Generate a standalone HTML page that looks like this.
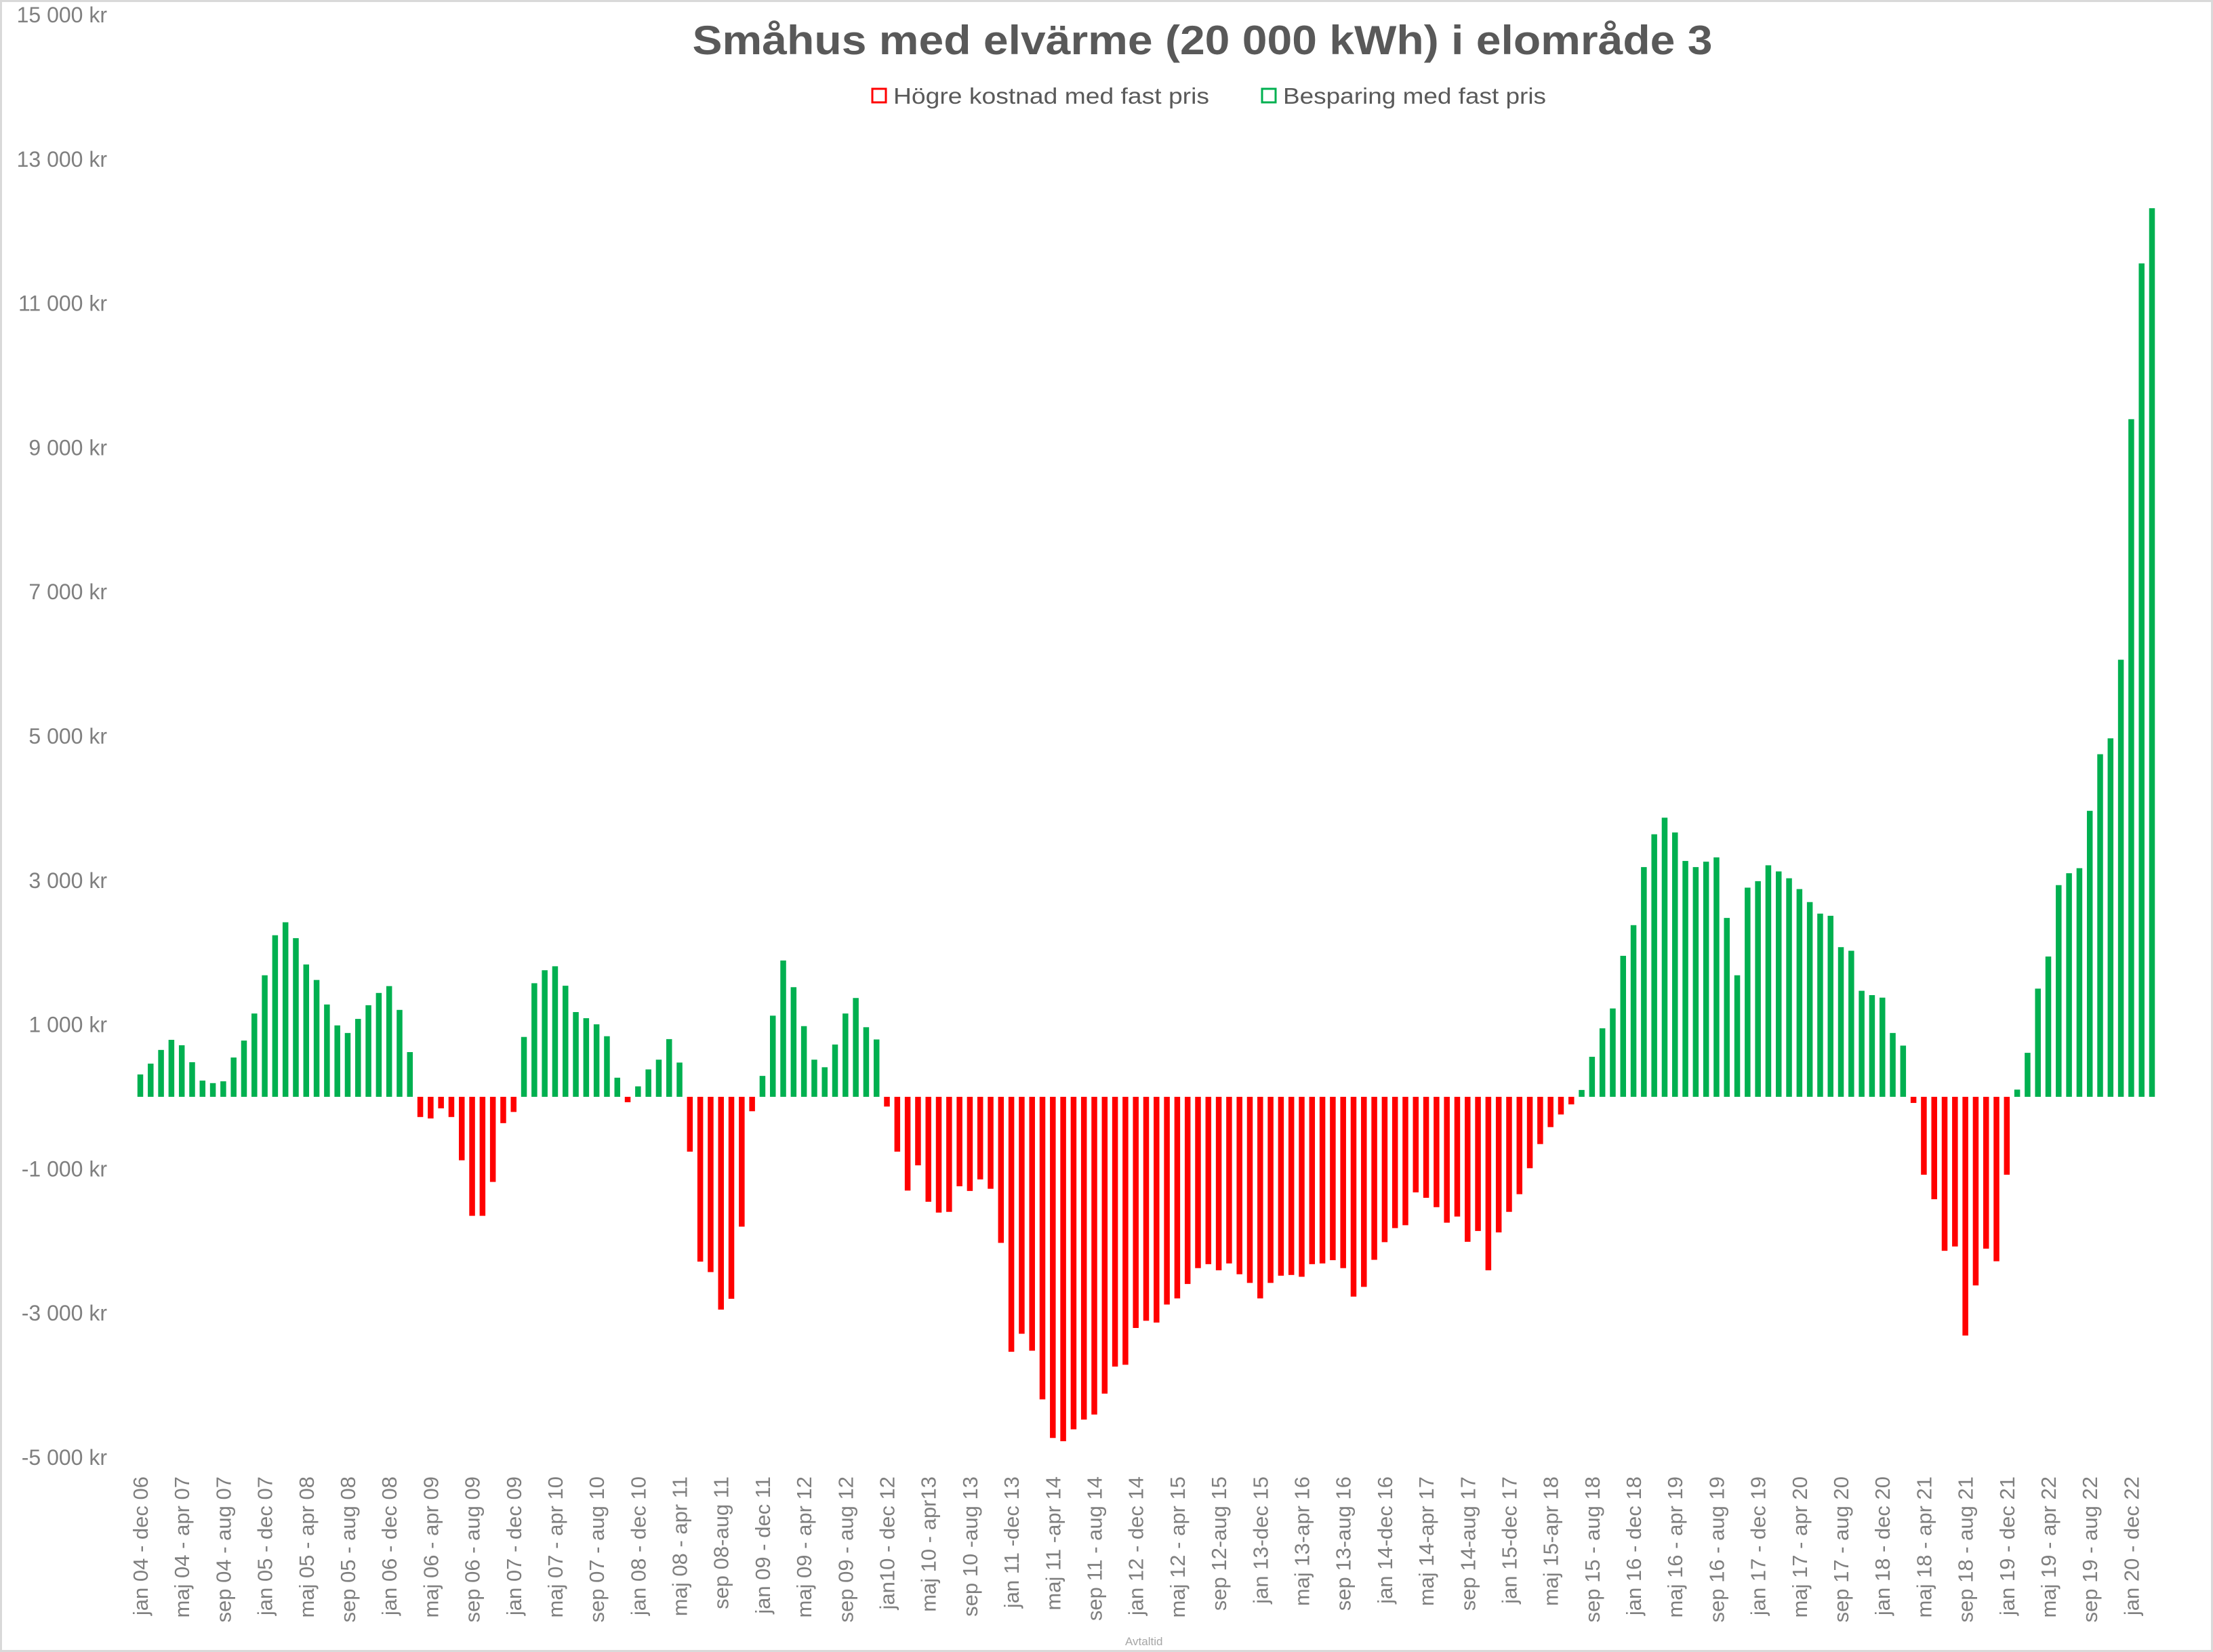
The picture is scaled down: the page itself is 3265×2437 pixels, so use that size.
<!DOCTYPE html>
<html><head><meta charset="utf-8"><style>
html,body{margin:0;padding:0;background:#fff;}
svg{display:block;}
text{font-family:"Liberation Sans",sans-serif;}
</style></head><body>
<svg id="chart" width="3265" height="2437" viewBox="0 0 3265 2437" xmlns="http://www.w3.org/2000/svg">
<rect x="1.5" y="1.5" width="3262" height="2434" fill="#fff" stroke="#d9d9d9" stroke-width="3"/>
<text x="1774" y="80" text-anchor="middle" font-size="60" font-weight="bold" fill="#595959" textLength="1505" lengthAdjust="spacingAndGlyphs">Småhus med elvärme (20 000 kWh) i elområde 3</text>
<g>
<rect x="1287" y="131" width="20" height="20" fill="none" stroke="#ff0000" stroke-width="3"/>
<text x="1318" y="153" font-size="33" fill="#595959" textLength="466" lengthAdjust="spacingAndGlyphs">Högre kostnad med fast pris</text>
<rect x="1862" y="131" width="20" height="20" fill="none" stroke="#00b050" stroke-width="3"/>
<text x="1893" y="153" font-size="33" fill="#595959" textLength="388" lengthAdjust="spacingAndGlyphs">Besparing med fast pris</text>
</g>
<g id="yaxis"></g>
<g id="bars"></g>
<g id="xaxis"></g>
<text x="1660" y="2427" font-size="17" fill="#a6a6a6">Avtaltid</text>
</svg>
<script>
const values = [310,460,650,790,715,480,225,190,215,545,780,1155,1685,2240,2420,2200,1835,1620,1280,990,885,1080,1270,1440,1535,1205,620,
-280,-300,-160,-280,-880,-1650,-1650,-1180,
-365,-210,830,1575,1755,1810,1540,1175,1090,1005,840,265,-75,145,380,515,800,475,-760,-2285,-2430,-2950,-2800,-1800,-200,290,1125,1890,1520,980,515,410,725,1155,1370,965,795,-135,-760,
-1300,-950,-1455,-1605,-1595,-1240,-1305,-1145,-1275,-2025,-3535,-3285,-3520,-4195,-4730,-4775,-4610,-4475,-4405,-4115,-3740,-3715,-3205,-3105,-3130,-2880,-2795,-2595,-2375,-2320,-2405,-2310,-2460,-2580,-2795,-2580,-2480,-2470,-2495,-2320,-2310,-2265,-2375,-2770,
-2635,-2260,-2015,-1820,-1780,-1325,-1400,-1530,-1745,-1660,-2010,-1860,-2405,-1880,-1595,-1350,-990,-655,-420,-245,-105,
95,555,950,1225,1955,2380,3185,3640,3870,3665,3270,3185,3260,3320,2480,1685,2900,
2990,3210,3125,3030,2880,2700,2540,2510,2075,2025,1470,1410,1375,885,710,
-85,-1080,-1420,-2135,-2075,-3310,-2615,-2105,-2280,-1080,
100,610,1500,1945,2935,3100,3170,3965,4750,4970,6060,9395,11555,12320];
const xLabels = ["jan 04 - dec 06","maj 04 - apr 07","sep 04 - aug 07","jan 05 - dec 07","maj 05 - apr 08","sep 05 - aug 08","jan 06 - dec 08","maj 06 - apr 09","sep 06 - aug 09","jan 07 - dec 09","maj 07 - apr 10","sep 07 - aug 10","jan 08 - dec 10","maj 08 - apr 11","sep 08-aug 11","jan 09 - dec 11","maj 09 - apr 12","sep 09 - aug 12","jan10 - dec 12","maj 10 - apr13","sep 10 -aug 13","jan 11 -dec 13","maj 11 -apr 14","sep 11 - aug 14","jan 12 - dec 14","maj 12 - apr 15","sep 12-aug 15","jan 13-dec 15","maj 13-apr 16","sep 13-aug 16","jan 14-dec 16","maj 14-apr 17","sep 14-aug 17","jan 15-dec 17","maj 15-apr 18","sep 15 - aug 18","jan 16 - dec 18","maj 16 - apr 19","sep 16 - aug 19","jan 17 - dec 19","maj 17 - apr 20","sep 17 - aug 20","jan 18 - dec 20","maj 18 - apr 21","sep 18 - aug 21","jan 19 - dec 21","maj 19 - apr 22","sep 19 - aug 22","jan 20 - dec 22"];
const yTicks = [15000,13000,11000,9000,7000,5000,3000,1000,-1000,-3000,-5000];
const yTickLabels = ["15 000 kr","13 000 kr","11 000 kr","9 000 kr","7 000 kr","5 000 kr","3 000 kr","1 000 kr","-1 000 kr","-3 000 kr","-5 000 kr"];

const NS = "http://www.w3.org/2000/svg";
const Y0 = 1618, PER = 0.1064;
function yScale(v){ return Y0 - v*PER; }
const X0 = 207, STEP = (3175-207)/(values.length-1);
function xScale(i){ return X0 + i*STEP; }

const yg = document.getElementById('yaxis');
yTicks.forEach((t,k)=>{
  const tx = document.createElementNS(NS,'text');
  
  
  tx.setAttribute('x',158);
  tx.setAttribute('y',yScale(t)+11);
  tx.setAttribute('text-anchor','end');
  tx.setAttribute('font-size','32');
  tx.setAttribute('fill','#7f7f7f');
  tx.textContent = yTickLabels[k];
  yg.appendChild(tx);
});

const bg = document.getElementById('bars');
values.forEach((v,i)=>{
  const r = document.createElementNS(NS,'rect');
  
  
  const cx = xScale(i), w = 8.5;
  const y1 = yScale(Math.max(v,0)), y2 = yScale(Math.min(v,0));
  r.setAttribute('x',cx-w/2);
  r.setAttribute('y',y1);
  r.setAttribute('width',w);
  r.setAttribute('height',Math.max(y2-y1,0.5));
  r.setAttribute('fill', v>=0 ? '#00b050' : '#ff0000');
  bg.appendChild(r);
});

const xg = document.getElementById('xaxis');
xLabels.forEach((lab,k)=>{
  const t = document.createElementNS(NS,'text');
  
  
  const x = xScale(k*4)+11, y = 2178;
  t.setAttribute('x',x);
  t.setAttribute('y',y);
  t.setAttribute('text-anchor','end');
  t.setAttribute('font-size','31');
  t.setAttribute('fill','#7f7f7f');
  t.setAttribute('transform','rotate(-90 '+x+' '+y+')');
  t.textContent = lab;
  xg.appendChild(t);
});
</script>
</body></html>
